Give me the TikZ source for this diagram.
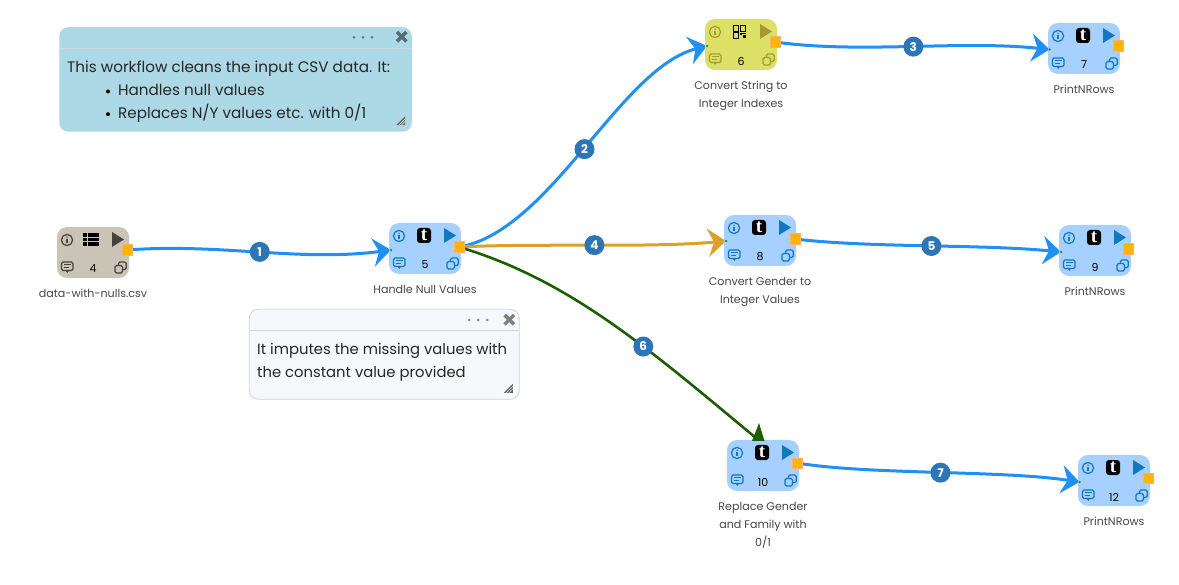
\documentclass[tikz,border=0pt]{standalone}
\usepackage{fontspec}
\setmainfont{Poppins}
\newfontfamily\tfont{Liberation Serif}
\usetikzlibrary{arrows.meta,backgrounds}
\definecolor{edgeblue}{HTML}{2090F5}
\definecolor{edgeorange}{HTML}{DDA02A}
\definecolor{edgegreen}{HTML}{1C5E00}
\definecolor{badgeblue}{HTML}{2E75B8}
\definecolor{nodeblue}{HTML}{A5D0FF}
\definecolor{nodetan}{HTML}{C9C4B6}
\definecolor{nodeyellow}{HTML}{DDE066}
\definecolor{iconblue}{HTML}{0F78C0}
\definecolor{icontan}{HTML}{45413C}
\definecolor{iconyellow}{HTML}{A39A30}
\definecolor{portorange}{HTML}{FFB400}
\definecolor{noteblue}{HTML}{ADD8E6}
\definecolor{notegrey}{HTML}{F6F8FB}
\definecolor{noteline}{HTML}{CFD4DE}
\tikzset{
  wfbody/.style={draw=none,minimum width=72pt,minimum height=51pt,rounded corners=10pt,inner sep=0pt},
  outport/.style={fill=portorange,draw=orange!60!white,line width=.5pt,minimum size=10.5pt,inner sep=0pt},
  inport/.style={circle,fill=edgegreen!80!lime,minimum size=2.5pt,inner sep=0pt},
  wflabel/.style={anchor=north,align=center,text=black!72,inner sep=0pt,font=\fontsize{11.1}{18}\selectfont},
  wfnum/.style={inner sep=0pt,font=\fontsize{11}{12}\selectfont},
  badge/.style={circle,fill=badgeblue,text=white,minimum size=20pt,inner sep=0pt,font=\fontsize{12}{12}\selectfont\bfseries},
  wfedge/.style={line width=3pt,-{Stealth[length=18pt,width=28pt,inset=6pt]}},
  noteframe/.style={rounded corners=9pt,minimum width=#1,inner sep=0pt},
  notetext/.style={anchor=base west,inner sep=0pt,text=black!85,font=\fontsize{15.2}{18}\selectfont},
  notetextb/.style={notetext,font=\fontsize{14.8}{18}\selectfont},
}
\newcommand{\glyphT}{%
  \fill[black,rounded corners=3pt] (28,5) rectangle (42,20);
  \node[text=white,inner sep=0pt,font=\tfont\fontsize{19}{19}\selectfont\bfseries] at (35,12.5) {t};}
\newcommand{\glyphTable}{%
  \foreach \yy in {6,10.6,15.2}{\fill[black] (26.3,\yy) rectangle (30,\yy+3.8); \fill[black] (31.3,\yy) rectangle (42.3,\yy+3.8);}}
\newcommand{\glyphQR}{%
  \foreach \xx/\yy in {28/6.7,35/6.7,28/13.7}{\draw[black,line width=1pt] (\xx,\yy) rectangle ++(5.4,5.4);}
  \fill[black] (35,14) rectangle (37,16); \fill[black] (37,14) rectangle (41,15.5); \fill[black] (38,16) rectangle (41,19.3);}
\newcommand{\grip}[2]{%
  \begin{scope}[shift={(#1,#2)}]
    \fill[black!60] (-4.5,4.5) -- (4.5,-4.5) -- (4.5,4.5) -- cycle;
    \draw[white,line width=.5pt] (-2,4.5) -- (4.5,-2) (0.5,4.5) -- (4.5,.5);
  \end{scope}}
% id, x, y, fill, icon colour, glyph, number, label
\newcommand{\wfnode}[8]{%
  \begin{scope}[shift={(#2,#3)}]
    \node[wfbody,fill=#4] (#1) at (36,25.5) {};
    \draw[#5,line width=1.2pt] (10,13) circle (5.6pt);
    \fill[#5] (10,10.2) circle (.8pt);
    \draw[#5,line width=1.2pt] (10,12) -- (10,16);
    #6
    \fill[#5] (55,5) -- (67,12.5) -- (55,20) -- cycle;
    \draw[#5,line width=1.2pt,rounded corners=1.5pt] (4.5,35) rectangle (16,43.5);
    \fill[#5] (8.5,43.5) -- (10.3,46) -- (12,43.5) -- cycle;
    \draw[#5,line width=1pt] (7,37.8) -- (13.5,37.8) (7,40.6) -- (11.5,40.6);
    \draw[#5,line width=1.2pt,rounded corners=1.5pt] (61.5,35) rectangle (69.3,42.5);
    \draw[#5,line width=1.2pt,rounded corners=1.5pt,fill=#4] (58,38.5) rectangle (65.5,46);
    \node[wfnum] (#1num) at (36,42) {#7};
    \node[wflabel] (#1lab) at (36,#8;
  \end{scope}}
\begin{document}
\begin{tikzpicture}[x=1pt,y=-1pt]
\useasboundingbox (0,0) rectangle (1179,585);

% notes
\node[noteframe=352.5pt,fill=noteblue,minimum height=104.5pt] (noteA) at (235.5,79.5) {};
\draw[noteline,line width=.8pt] (59.3,48.3) -- (411.7,48.3);
\foreach \xx in {354,363,372}{\fill[black!45!noteblue] (\xx,37.3) circle (1.5pt);}
\draw[black!45!noteblue!90!black,line width=3.4pt] (397,32) -- (406.4,41.4) (406.4,32) -- (397,41.4);
\node[notetext] (noteA1) at (67,72.7) {This workflow cleans the input CSV data. It:};
\fill[black] (108,91.5) circle (2pt);
\node[notetext] (noteA2) at (118,96) {Handles null values};
\fill[black] (108,114.2) circle (2pt);
\node[notetext] (noteA3) at (118,118.7) {Replaces N/Y values etc. with 0/1};
\grip{400.7}{120.7}

\node[noteframe=270pt,fill=notegrey,draw=noteline,line width=.8pt,minimum height=90pt] (noteB) at (384.3,354.3) {};
\draw[noteline,line width=.8pt] (249.3,330) -- (519.3,330);
\foreach \xx in {469,478,487}{\fill[black!45] (\xx,320) circle (1.5pt);}
\draw[black!50,line width=3.4pt] (504.6,315) -- (514,324.4) (514,315) -- (504.6,324.4);
\node[notetextb] (noteB1) at (257,355) {It imputes the missing values with};
\node[notetextb] (noteB2) at (257,377.7) {the constant value provided};
\grip{508.3}{388.3}

% workflow nodes
\wfnode{n4}{57}{227}{nodetan}{icontan}{\glyphTable}{4}{62) {data-with-nulls.csv}}
\wfnode{n5}{389}{223}{nodeblue}{iconblue}{\glyphT}{5}{62) {Handle Null Values}}
\wfnode{n6}{705}{19}{nodeyellow}{iconyellow}{\glyphQR}{6}{62) {Convert String to\\Integer Indexes}}
\wfnode{n7}{1048}{23}{nodeblue}{iconblue}{\glyphT}{7}{62) {PrintNRows}}
\wfnode{n8}{724}{215}{nodeblue}{iconblue}{\glyphT}{8}{62) {Convert Gender to\\Integer Values}}
\wfnode{n9}{1059}{225}{nodeblue}{iconblue}{\glyphT}{9}{62) {PrintNRows}}
\wfnode{n10}{727}{440}{nodeblue}{iconblue}{\glyphT}{10}{62) {Replace Gender\\and Family with\\0/1}}
\wfnode{n12}{1078}{455}{nodeblue}{iconblue}{\glyphT}{12}{62) {PrintNRows}}

% ports
\node[outport] (n4out) at (127,250) {};
\node[outport] (n5out) at (459,247) {};
\node[outport] (n6out) at (775,42) {};
\node[outport] (n7out) at (1118,46) {};
\node[outport] (n8out) at (795,239) {};
\node[outport] (n9out) at (1128,249) {};
\node[outport] (n10out) at (797,463) {};
\node[outport] (n12out) at (1148,478) {};
\node[inport] (n5in) at (391,250) {};
\node[inport] (n6in) at (707,46) {};
\node[inport] (n7in) at (1049.5,49.5) {};
\node[inport] (n8in) at (726,241) {};
\node[inport] (n9in) at (1061,252) {};
\node[inport] (n10in) at (763,440) {};
\node[inport] (n12in) at (1079.5,482) {};
\coordinate (n10end) at (756,438);

% green arrowhead of connector 6
\fill[edgegreen] (759,423) -- (764.5,441) -- (752,441) -- cycle;

\begin{scope}[on background layer]
  \fill[white] (0,0) rectangle (1179,585);
  \draw[wfedge,edgeblue] (n4out.center) .. controls (220,243) and (300,262) .. (n5in.center);
  \draw[wfedge,edgeblue] (n5out.center) .. controls (550,232) and (620,68) .. (n6in.center);
  \draw[wfedge,edgeblue] (n6out.center) .. controls (860,54) and (960,40) .. (n7in.center);
  \draw[wfedge,edgeorange] (n5out.center) .. controls (540,243) and (650,248) .. (n8in.center);
  \draw[wfedge,edgeblue] (n8out.center) .. controls (870,248) and (980,244) .. (n9in.center);
  \draw[edgegreen,line width=2.6pt] (n5out.center) .. controls (570,280) and (650,350) .. (n10end);
  \draw[wfedge,edgeblue] (n10out.center) .. controls (870,475) and (1000,470) .. (n12in.center);
\end{scope}
% connector badges, set on the curves above
\path (n4out.center) .. controls (220,243) and (300,262) .. node[pos=.5,badge] (b1) {1} (n5in.center);
\path (n5out.center) .. controls (550,232) and (620,68) .. node[pos=.5,badge] (b2) {2} (n6in.center);
\path (n6out.center) .. controls (860,54) and (960,40) .. node[pos=.51,badge] (b3) {3} (n7in.center);
\path (n5out.center) .. controls (540,243) and (650,248) .. node[pos=.5,badge] (b4) {4} (n8in.center);
\path (n8out.center) .. controls (870,248) and (980,244) .. node[pos=.52,badge] (b5) {5} (n9in.center);
\path (n5out.center) .. controls (570,280) and (650,350) .. node[pos=.62,badge] (b6) {6} (n10end);
\path (n10out.center) .. controls (870,475) and (1000,470) .. node[pos=.515,badge] (b7) {7} (n12in.center);
\end{tikzpicture}
\end{document}
